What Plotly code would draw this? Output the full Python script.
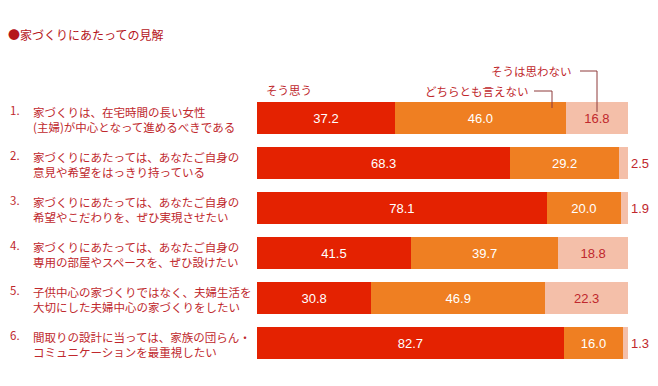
import plotly.graph_objects as go

# The page body has an 8px margin; draw in a 650x378 figure and shift coordinates.
OFF = 8
W, H = 658 - OFF, 386 - OFF

title = "●家づくりにあたっての見解"
numbers = ["1.", "2.", "3.", "4.", "5.", "6."]
categories = [
    "家づくりは、在宅時間の長い女性<br>(主婦)が中心となって進めるべきである",
    "家づくりにあたっては、あなたご自身の<br>意見や希望をはっきり持っている",
    "家づくりにあたっては、あなたご自身の<br>希望やこだわりを、ぜひ実現させたい",
    "家づくりにあたっては、あなたご自身の<br>専用の部屋やスペースを、ぜひ設けたい",
    "子供中心の家づくりではなく、夫婦生活を<br>大切にした夫婦中心の家づくりをしたい",
    "間取りの設計に当っては、家族の団らん・<br>コミュニケーションを最重視したい",
]
series_names = ["そう思う", "どちらとも言えない", "そうは思わない"]
agree = [37.2, 68.3, 78.1, 41.5, 30.8, 82.7]
neutral = [46.0, 29.2, 20.0, 39.7, 46.9, 16.0]
disagree = [16.8, 2.5, 1.9, 18.8, 22.3, 1.3]

RED = "#E42201"
ORANGE = "#EF7F22"
PINK = "#F4BFA9"
TXT = "#C0282D"
LINE = "#8E3A3A"

JP = "Noto Sans CJK JP"
NUM = "Liberation Sans"
FS = 11.5

ids = list(range(len(categories)))


def px_x(p):
    return (p - OFF) / W


def px_y(p):
    return 1 - (p - OFF) / H


fig = go.Figure()
series = [agree, neutral, disagree]
colors = [RED, ORANGE, PINK]
for name, vals, col in zip(series_names, series, colors):
    is_last = vals is disagree
    positions = ["outside" if (is_last and v < 5) else "inside" for v in vals]
    fig.add_trace(go.Bar(
        y=ids, x=vals, orientation="h", name=name,
        marker=dict(color=col, line=dict(width=0)),
        width=0.733,
        text=[f"{v:.1f}" for v in vals],
        textposition=positions,
        insidetextanchor="middle",
        textangle=0,
        constraintext="none",
        insidetextfont=dict(family=NUM, size=13, color=(TXT if is_last else "white")),
        outsidetextfont=dict(family=NUM, size=13, color=TXT),
        cliponaxis=False,
        hoverinfo="skip",
    ))

# category labels
for i, (n, c) in enumerate(zip(numbers, categories)):
    fig.add_annotation(x=px_x(8), xref="paper", y=i, yref="y", yshift=8,
                       text=n, showarrow=False, xanchor="left", yanchor="middle",
                       font=dict(family=JP, size=FS, color=TXT))
    fig.add_annotation(x=px_x(31), xref="paper", y=i, yref="y", yshift=-1,
                       text=c, showarrow=False, xanchor="left", yanchor="middle",
                       align="left", font=dict(family=JP, size=FS, color=TXT))

# title
fig.add_annotation(x=px_x(6), xref="paper", y=px_y(34), yref="paper",
                   text=title, showarrow=False, xanchor="left", yanchor="middle",
                   font=dict(family=JP, size=12, color="#B5161C"))

# legend labels
fig.add_annotation(x=px_x(264), xref="paper", y=px_y(90), yref="paper",
                   text=series_names[0], showarrow=False, xanchor="left", yanchor="middle",
                   font=dict(family=JP, size=FS, color=TXT))
fig.add_annotation(x=px_x(531), xref="paper", y=px_y(91), yref="paper",
                   text=series_names[1], showarrow=False, xanchor="right", yanchor="middle",
                   font=dict(family=JP, size=FS, color=TXT))
fig.add_annotation(x=px_x(574), xref="paper", y=px_y(71), yref="paper",
                   text=series_names[2], showarrow=False, xanchor="right", yanchor="middle",
                   font=dict(family=JP, size=FS, color=TXT))

# leader lines
fig.add_shape(type="path", xref="paper", yref="paper",
              path=f"M {px_x(534)} {px_y(91)} L {px_x(552)} {px_y(91)} L {px_x(552)} {px_y(108)}",
              line=dict(color=LINE, width=1))
fig.add_shape(type="path", xref="paper", yref="paper",
              path=f"M {px_x(580)} {px_y(71)} L {px_x(597)} {px_y(71)} L {px_x(597)} {px_y(112)}",
              line=dict(color=LINE, width=1))

fig.update_layout(
    width=W, height=H, autosize=False,
    margin=dict(l=0, r=0, t=0, b=0),
    paper_bgcolor="white", plot_bgcolor="white",
    barmode="stack", showlegend=False,
    xaxis=dict(domain=[(257 - OFF) / W, (628 - OFF) / W], range=[0, 100],
               visible=False, fixedrange=True),
    yaxis=dict(range=[(386 - 118) / 45, -(118 - OFF) / 45], visible=False, fixedrange=True),
)

fig.write_html("out.html", config={"displayModeBar": False})
